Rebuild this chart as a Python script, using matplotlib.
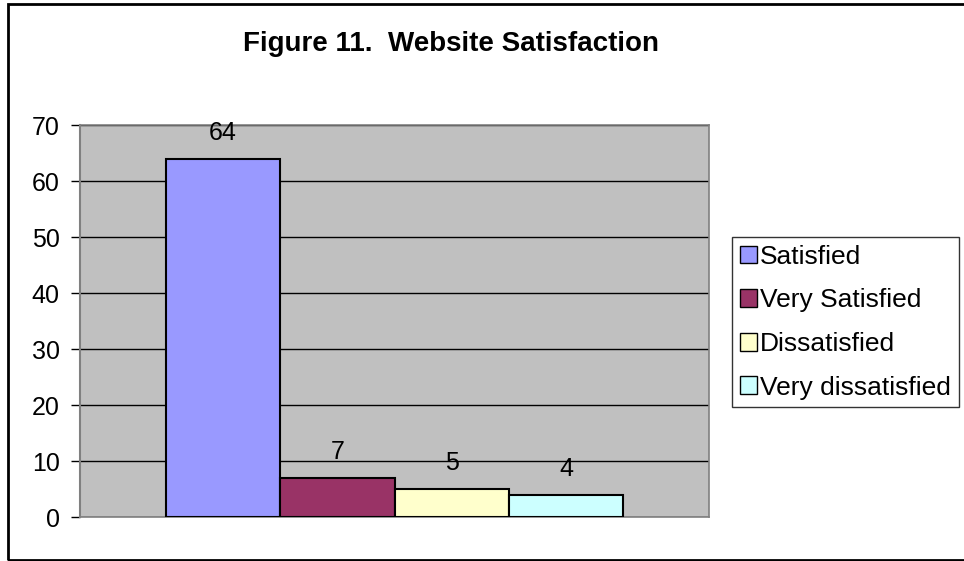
import matplotlib
matplotlib.use('Agg')
import matplotlib.pyplot as plt
from matplotlib.patches import Rectangle

# data
categories = ["Satisfied", "Very Satisfied", "Dissatisfied", "Very dissatisfied"]
values = [64, 7, 5, 4]
colors = ["#9999FF", "#993366", "#FFFFCC", "#CCFFFF"]
y_ticks = [0, 10, 20, 30, 40, 50, 60, 70]

plt.rcParams['font.family'] = ['Liberation Sans', 'DejaVu Sans']

fig = plt.figure(figsize=(9.64, 5.61), dpi=100)
ax = fig.add_axes([0.083, 0.0784, 0.6525, 0.6986])
ax.set_facecolor("#C0C0C0")

# four bars side by side, one category, gap width 150%
n = len(values)
for i, (cat, val, col) in enumerate(zip(categories, values, colors)):
    x = i - (n - 1) / 2
    ax.bar(x, val, width=1.0, color=col, edgecolor="black", linewidth=1.5,
           label=cat, zorder=3)
    ax.annotate(str(val), (x, val), xytext=(0, 10), textcoords="offset points",
                ha="center", va="bottom", fontsize=18)

ax.set_xlim(-2.75, 2.75)
ax.set_ylim(0, 70)
ax.set_xticks([])
ax.set_yticks(y_ticks)
ax.tick_params(axis="y", labelsize=18, length=6.5, width=1, pad=8)
ax.yaxis.grid(True, color="black", linewidth=1, zorder=1)
ax.set_axisbelow(True)
for s in ax.spines.values():
    s.set_color("#808080")
    s.set_linewidth(1.2)
ax.spines["left"].set_linewidth(1.5)

fig.text(0.468, 0.921, "Figure 11.  Website Satisfaction", ha="center",
         va="center", fontsize=20, fontweight="bold")

leg = ax.legend(loc="upper left", bbox_to_anchor=(0.7593, 0.5775),
                bbox_transform=fig.transFigure, fontsize=19, frameon=True,
                fancybox=False, shadow=False, borderaxespad=0,
                handlelength=0.65, handleheight=0.65, handletextpad=0.12,
                labelspacing=0.74, borderpad=0.3)
leg.get_frame().set_edgecolor("black")
leg.get_frame().set_linewidth(1)
for h in leg.legend_handles:
    h.set_linewidth(1)

# chart border
fig.patches.append(Rectangle((0.0078, 0.0018), 1.1, 0.991, transform=fig.transFigure,
                             fill=False, edgecolor="black", linewidth=2))

fig.savefig("out.png", dpi=100)
